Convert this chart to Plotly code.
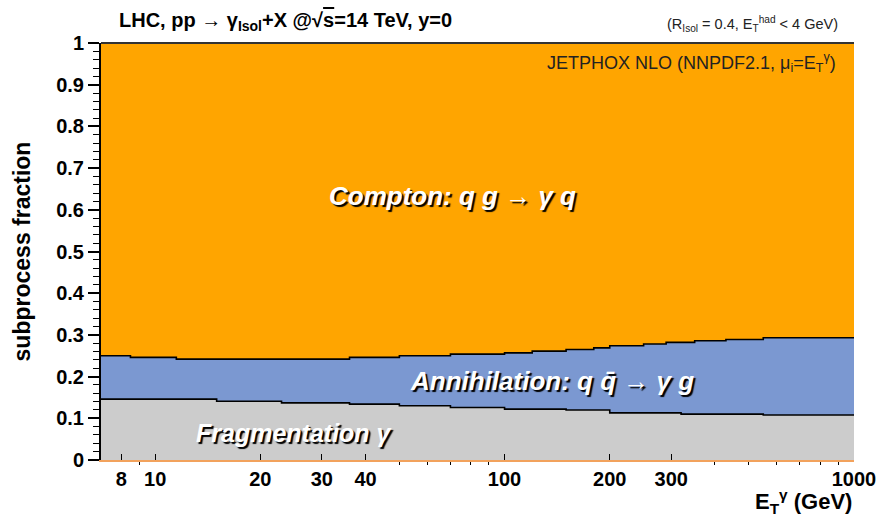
import plotly.graph_objects as go
import numpy as np

# Bin edges in E_T^gamma (GeV)
bin_edges = [7, 8.5, 11.5, 15, 23, 36, 50, 70, 100, 120, 150, 180, 200, 250, 290, 320, 350, 430, 550, 1000]
# subprocess fractions per bin
frag_frac = [0.146, 0.146, 0.146, 0.141, 0.137, 0.134, 0.130, 0.126, 0.122, 0.122,
             0.120, 0.120, 0.113, 0.113, 0.113, 0.110, 0.110, 0.110, 0.108]
ann_frac = [0.104, 0.100, 0.096, 0.101, 0.105, 0.112, 0.120, 0.128, 0.135, 0.139,
            0.145, 0.149, 0.161, 0.165, 0.169, 0.172, 0.176, 0.179, 0.185]

x_tickvals = [8, 10, 20, 30, 40, 100, 200, 300, 1000]
x_ticktext = ["8", "10", "20", "30", "40", "100", "200", "300", "1000"]
x_minor = [7, 9, 50, 60, 70, 80, 90, 400, 500, 600, 700, 800, 900]
y_tickvals = [round(0.1 * i, 1) for i in range(11)]
y_ticktext = ["0", "0.1", "0.2", "0.3", "0.4", "0.5", "0.6", "0.7", "0.8", "0.9", "1"]

frag = np.array(frag_frac)
total = frag + np.array(ann_frac)
compton_top = total + (1 - total)

def steps(v):
    return list(v) + [v[-1]]

ORANGE = "#FFA500"
BLUE = "#7B98D1"
GRAY = "#CCCCCC"
FONT = "Liberation Sans, Arial, sans-serif"

fig = go.Figure()
fig.add_trace(go.Scatter(x=bin_edges, y=steps(compton_top), mode="lines", line=dict(shape="hv", width=0, color=ORANGE),
                         fill="tozeroy", fillcolor=ORANGE, hoverinfo="skip", showlegend=False))
fig.add_trace(go.Scatter(x=bin_edges, y=steps(total), mode="lines", line=dict(shape="hv", width=1.6, color="black"),
                         fill="tozeroy", fillcolor=BLUE, showlegend=False))
fig.add_trace(go.Scatter(x=bin_edges, y=steps(frag), mode="lines", line=dict(shape="hv", width=1.6, color="black"),
                         fill="tozeroy", fillcolor=GRAY, showlegend=False))

fig.update_layout(
    width=887, height=516,
    margin=dict(l=101, r=33, t=43, b=56),
    paper_bgcolor="white", plot_bgcolor="white",
    font=dict(family=FONT, color="black"),
    xaxis=dict(type="log", range=[np.log10(7), np.log10(1000)],
               tickvals=x_tickvals, ticktext=x_ticktext,
               tickfont=dict(size=20, weight="bold", family=FONT),
               ticks="inside", ticklen=6, tickwidth=1, tickcolor="black",
               minor=dict(tickvals=x_minor, ticks="outside", ticklen=3, tickcolor="black"),
               showline=True, linecolor="#F2A25C", linewidth=1.5,
               showgrid=False, zeroline=False),
    yaxis=dict(range=[0, 1], tickvals=y_tickvals, ticktext=y_ticktext,
               tickfont=dict(size=20, weight="bold", family=FONT),
               ticks="outside", ticklen=11, tickwidth=1.5, tickcolor="black",
               minor=dict(dtick=0.02, ticks="outside", ticklen=6, tickcolor="black", tickwidth=1),
               showline=True, linecolor="black", linewidth=2,
               showgrid=False, zeroline=False),
    shapes=[dict(type="line", xref="paper", yref="paper", x0=0, x1=1, y0=1, y1=1,
                 line=dict(color="#333333", width=2))],
)

shadow_font = dict(size=25, weight="bold", style="italic", family=FONT, color="white",
                   shadow="2px 2px 1px #000000")

anns = [
    dict(text="LHC, pp \u2192 \u03b3<sub>Isol</sub>+X @\u221a<span style='text-decoration:overline'>s</span>=14 TeV, y=0",
         xref="paper", yref="paper", x=0.021, y=1.052, xanchor="left", yanchor="middle",
         font=dict(size=20, weight="bold", family=FONT)),
    dict(text="(R<sub>Isol</sub> = 0.4, E<sub>T</sub><sup>had</sup> < 4 GeV)",
         xref="paper", yref="paper", x=0.981, y=1.046, xanchor="right", yanchor="middle",
         font=dict(size=14.5, family=FONT, color="#222222")),
    dict(text="JETPHOX NLO (NNPDF2.1, \u03bc<sub>i</sub>=E<sub>T</sub><sup>\u03b3</sup>)",
         xref="paper", yref="paper", x=0.979, y=0.954, xanchor="right", yanchor="middle",
         font=dict(size=18, family=FONT, color="#222222")),
    dict(text="subprocess fraction", xref="paper", yref="paper", x=-0.105, y=0.5,
         textangle=-90, xanchor="center", yanchor="middle",
         font=dict(size=23, weight="bold", family=FONT)),
    dict(text="E<sub>T</sub><sup>\u03b3</sup> (GeV)", xref="paper", yref="paper", x=1.0, y=-0.10,
         xanchor="right", yanchor="middle", font=dict(size=22, weight="bold", family=FONT)),
    dict(text="Compton: q g \u2192 \u03b3 q", xref="x", yref="y", x=1.85, y=0.633,
         xanchor="center", yanchor="middle", font=dict(shadow_font, size=26)),
    dict(text="Annihilation: q q\u0304 \u2192 \u03b3 g", xref="x", yref="y", x=2.135, y=0.19,
         xanchor="center", yanchor="middle", font=dict(shadow_font, size=26)),
    dict(text="Fragmentation \u03b3", xref="x", yref="y", x=1.398, y=0.065,
         xanchor="center", yanchor="middle", font=dict(shadow_font, size=25)),
]
for a in anns:
    a["showarrow"] = False
fig.update_layout(annotations=anns)

fig.write_html("out.html")
